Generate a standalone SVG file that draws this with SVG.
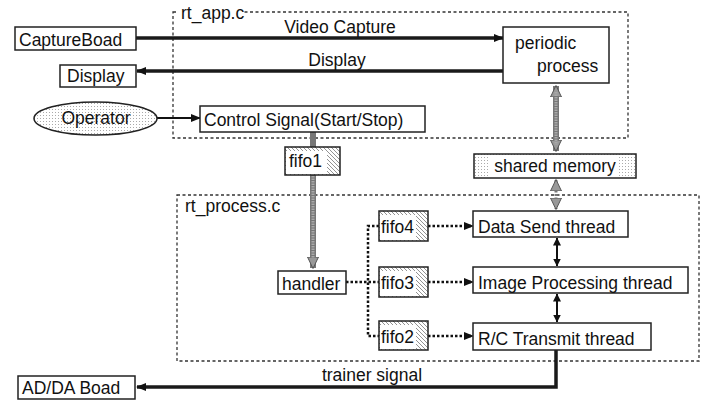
<svg xmlns="http://www.w3.org/2000/svg" width="717" height="401" viewBox="0 0 717 401">
<style>
text{font-family:"Liberation Sans",Arial,sans-serif;font-size:17.5px;fill:#111}
.box{fill:#fff;stroke:#222;stroke-width:1.5}
.frame{fill:none;stroke:#333;stroke-width:1.3;stroke-dasharray:3,2.5}
.thick{stroke:#1a1a1a;stroke-width:3.5;fill:none}
.thin{stroke:#111;stroke-width:2;fill:none}
.dot{stroke:#111;stroke-width:2.5;stroke-dasharray:2.5,2;fill:none}
.gray{stroke:#777;stroke-width:6;fill:none}
.grayin{stroke:#aaa;stroke-width:3;stroke-dasharray:1.5,1;fill:none}
</style>
<defs>
<pattern id="dots" width="3" height="3" patternUnits="userSpaceOnUse">
<rect width="3" height="3" fill="#fff"/><rect x="1" y="1" width="1" height="1" fill="#aaa"/>
</pattern>
<pattern id="hatch" width="4" height="4" patternUnits="userSpaceOnUse">
<rect width="4" height="4" fill="#fff"/><path d="M-1,-1 L5,5 M-1,3 L1,5 M3,-1 L5,1" stroke="#777" stroke-width="0.8"/>
</pattern>
<marker id="ah" markerWidth="10" markerHeight="8" refX="9" refY="4" orient="auto" markerUnits="userSpaceOnUse">
<path d="M0,0 L10,4 L0,8 z" fill="#111"/>
</marker>
<marker id="ahs" markerWidth="8" markerHeight="8" refX="7.5" refY="4" orient="auto-start-reverse" markerUnits="userSpaceOnUse">
<path d="M0,0 L8,4 L0,8 z" fill="#111"/>
</marker>
<marker id="ahg" markerWidth="12" markerHeight="12" refX="11" refY="6" orient="auto-start-reverse" markerUnits="userSpaceOnUse">
<path d="M0,0.5 L11.5,6 L0,11.5 z" fill="#999" stroke="#555" stroke-width="1"/>
</marker>
</defs>

<!-- frames -->
<g id="rt_app">
<rect class="frame" x="173" y="12" width="455" height="126"/>
<rect x="178" y="5" width="66" height="18" fill="#fff"/>
<text x="181" y="19">rt_app.c</text>
</g>
<g id="rt_process">
<rect class="frame" x="177" y="195" width="522" height="166"/>
<rect x="184" y="196" width="100" height="20" fill="#fff"/>
<text x="185" y="212">rt_process.c</text>
</g>

<!-- connectors -->
<g id="connectors">
<line class="thick" x1="136" y1="38" x2="503" y2="38" marker-end="url(#ah)"/>
<line class="thick" x1="503" y1="71" x2="137" y2="71" marker-end="url(#ah)"/>
<line class="thin" x1="157" y1="118" x2="200" y2="118" marker-end="url(#ah)"/>
<polyline class="thick" points="556,350 556,387 137,387" marker-end="url(#ah)"/>
<!-- periodic <-> shared memory -->
<line class="gray" x1="556" y1="86" x2="556" y2="151" marker-start="url(#ahg)" marker-end="url(#ahg)"/>
<line class="grayin" x1="556" y1="92" x2="556" y2="145"/>
<!-- shared memory <-> data send -->
<line stroke="#777" stroke-width="3" stroke-dasharray="2,1.5" x1="556" y1="180" x2="556" y2="209" marker-start="url(#ahg)" marker-end="url(#ahg)"/>
<!-- control -> fifo1 -> handler -->
<line class="gray" x1="313" y1="132" x2="313" y2="147"/>
<line class="gray" x1="313" y1="175" x2="313" y2="268" marker-end="url(#ahg)"/>
<line class="grayin" x1="313" y1="176" x2="313" y2="258"/>
<!-- handler to fifos -->
<line class="dot" x1="346" y1="282" x2="379" y2="282"/>
<polyline class="dot" points="379,226 368,226 368,336 379,336"/>
<!-- fifos to threads -->
<line class="dot" x1="428" y1="226" x2="473" y2="226" marker-end="url(#ah)"/>
<line class="dot" x1="428" y1="282" x2="473" y2="282" marker-end="url(#ah)"/>
<line class="dot" x1="428" y1="336" x2="473" y2="336" marker-end="url(#ah)"/>
<!-- thread double arrows -->
<line class="thin" x1="557" y1="238" x2="557" y2="266" marker-start="url(#ahs)" marker-end="url(#ahs)"/>
<line class="thin" x1="557" y1="294" x2="557" y2="322" marker-start="url(#ahs)" marker-end="url(#ahs)"/>
</g>

<!-- nodes -->
<g id="captureboad"><rect class="box" x="15" y="27" width="121" height="23"/><text x="19" y="46">CaptureBoad</text></g>
<g id="display"><rect class="box" x="60" y="65" width="76" height="22"/><text x="67" y="82">Display</text></g>
<g id="operator"><ellipse cx="95.5" cy="118.5" rx="61.5" ry="16.5" fill="url(#dots)" stroke="#222" stroke-width="1.5"/><text x="96" y="124" text-anchor="middle">Operator</text></g>
<g id="control"><rect class="box" x="200" y="106" width="225" height="26"/><text x="204" y="126">Control Signal(Start/Stop)</text></g>
<g id="periodic"><rect class="box" x="503" y="27" width="106" height="56"/><text x="515" y="49">periodic</text><text x="537" y="72">process</text></g>
<g id="labels">
<text x="340" y="33" text-anchor="middle">Video Capture</text>
<text x="337" y="66" text-anchor="middle">Display</text>
<text x="372" y="381" text-anchor="middle">trainer signal</text>
</g>
<g id="shared_memory"><rect x="474" y="154" width="162" height="24" fill="url(#dots)" stroke="#222" stroke-width="1.5"/><rect x="490" y="155" width="128" height="22" fill="#fff"/><text x="555" y="172" text-anchor="middle">shared memory</text></g>
<g id="fifo1"><rect x="285" y="147" width="55" height="28" fill="url(#hatch)" stroke="#222" stroke-width="1.5"/><rect x="286" y="151" width="41" height="23" fill="#fff"/><text x="289" y="167">fifo1</text></g>
<g id="handler"><rect class="box" x="278" y="271" width="68" height="23"/><text x="282" y="290">handler</text></g>
<g id="fifo4"><rect x="379" y="211" width="49" height="30" fill="url(#hatch)" stroke="#222" stroke-width="1.5"/><rect x="380" y="215" width="36" height="25" fill="#fff"/><text x="381" y="233">fifo4</text></g>
<g id="fifo3"><rect x="379" y="267" width="49" height="30" fill="url(#hatch)" stroke="#222" stroke-width="1.5"/><rect x="380" y="271" width="36" height="25" fill="#fff"/><text x="381" y="289">fifo3</text></g>
<g id="fifo2"><rect x="379" y="321" width="49" height="29" fill="url(#hatch)" stroke="#222" stroke-width="1.5"/><rect x="380" y="325" width="36" height="24" fill="#fff"/><text x="381" y="343">fifo2</text></g>
<g id="data_send"><rect class="box" x="473" y="211" width="155" height="26"/><text x="478" y="233">Data Send thread</text></g>
<g id="image_proc"><rect class="box" x="473" y="267" width="215" height="26"/><text x="478" y="289">Image Processing thread</text></g>
<g id="rc_transmit"><rect class="box" x="473" y="323" width="178" height="27"/><text x="478" y="345">R/C Transmit thread</text></g>
<g id="adda"><rect class="box" x="18" y="376" width="117" height="23"/><text x="22" y="394">AD/DA Boad</text></g>
</svg>
